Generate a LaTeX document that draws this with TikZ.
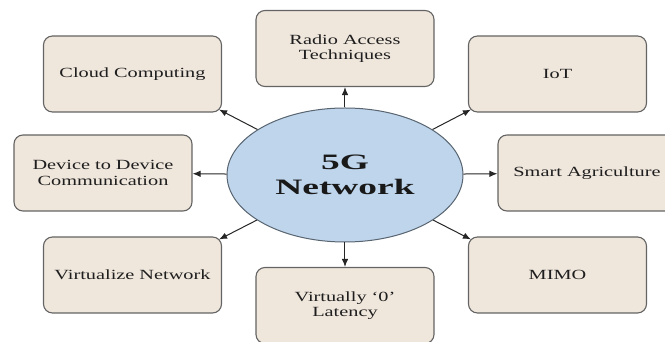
\documentclass[tikz,border=0pt]{standalone}
\usepackage{fontspec}
\setmainfont{Liberation Serif}
\newfontfamily\topicfont[FakeStretch=1.45]{Liberation Serif}
\newfontfamily\hubfont[FakeStretch=1.7]{Liberation Serif}
\usepackage{tikz}
\usepackage{xcolor}
\usetikzlibrary{arrows.meta}
\usetikzlibrary{shapes.geometric}

\definecolor{topicfill}{RGB}{239,230,220}
\definecolor{topicline}{RGB}{100,100,100}
\definecolor{hubfill}{RGB}{190,213,236}
\definecolor{hubline}{RGB}{88,100,112}
\definecolor{inkgray}{RGB}{30,30,30}

\tikzset{
  topic/.style={draw=topicline, line width=1.1pt, fill=topicfill, rounded corners=9pt,
    minimum width=178pt, minimum height=76pt, align=center, text=inkgray,
    font=\topicfont\fontsize{14}{15.5}\selectfont},
  hub/.style={ellipse, draw=hubline, line width=1pt, fill=hubfill, inner sep=0pt,
    minimum width=236pt, minimum height=134pt, align=center, text=black!90,
    font=\hubfont\bfseries\fontsize{22}{25}\selectfont},
  link/.style={draw=black!85, line width=1pt, -{Latex[length=8pt,width=6.5pt]}}
}

\begin{document}
\begin{tikzpicture}[x=1pt, y=1pt]
\useasboundingbox (-345,-167) rectangle (320,175);
\clip (-345,-167) rectangle (320,175);

\node[hub] (hub) at (0,0) {5G\\Network};

\node[topic] (cloud)   at (-212.5,101)  {Cloud Computing};
\node[topic] (radio)   at (0,126.5)     {Radio Access\\Techniques};
\node[topic] (iot)     at (212.5,101)   {IoT};
\node[topic] (d2d)     at (-242,2)      {Device to Device\\Communication};
\node[topic] (agri)    at (242,2)       {Smart Agriculture};
\node[topic] (virtnet) at (-212.5,-100) {Virtualize Network};
\node[topic] (latency) at (0,-130.5)    {Virtually ‘0’\\Latency};
\node[topic] (mimo)    at (212.5,-100)  {MIMO};

\draw[link] (hub) -- (radio);
\draw[link] (hub) -- (latency);
\draw[link] (hub) -- (d2d);
\draw[link] (hub) -- (agri);
\draw[link] (hub) -- ([xshift=-3pt,yshift=3pt]cloud.south east);
\draw[link] (hub) -- ([xshift=3pt,yshift=3pt]iot.south west);
\draw[link] (hub) -- ([xshift=-3pt,yshift=-3pt]virtnet.north east);
\draw[link] (hub) -- ([xshift=3pt,yshift=-3pt]mimo.north west);
\end{tikzpicture}
\end{document}
